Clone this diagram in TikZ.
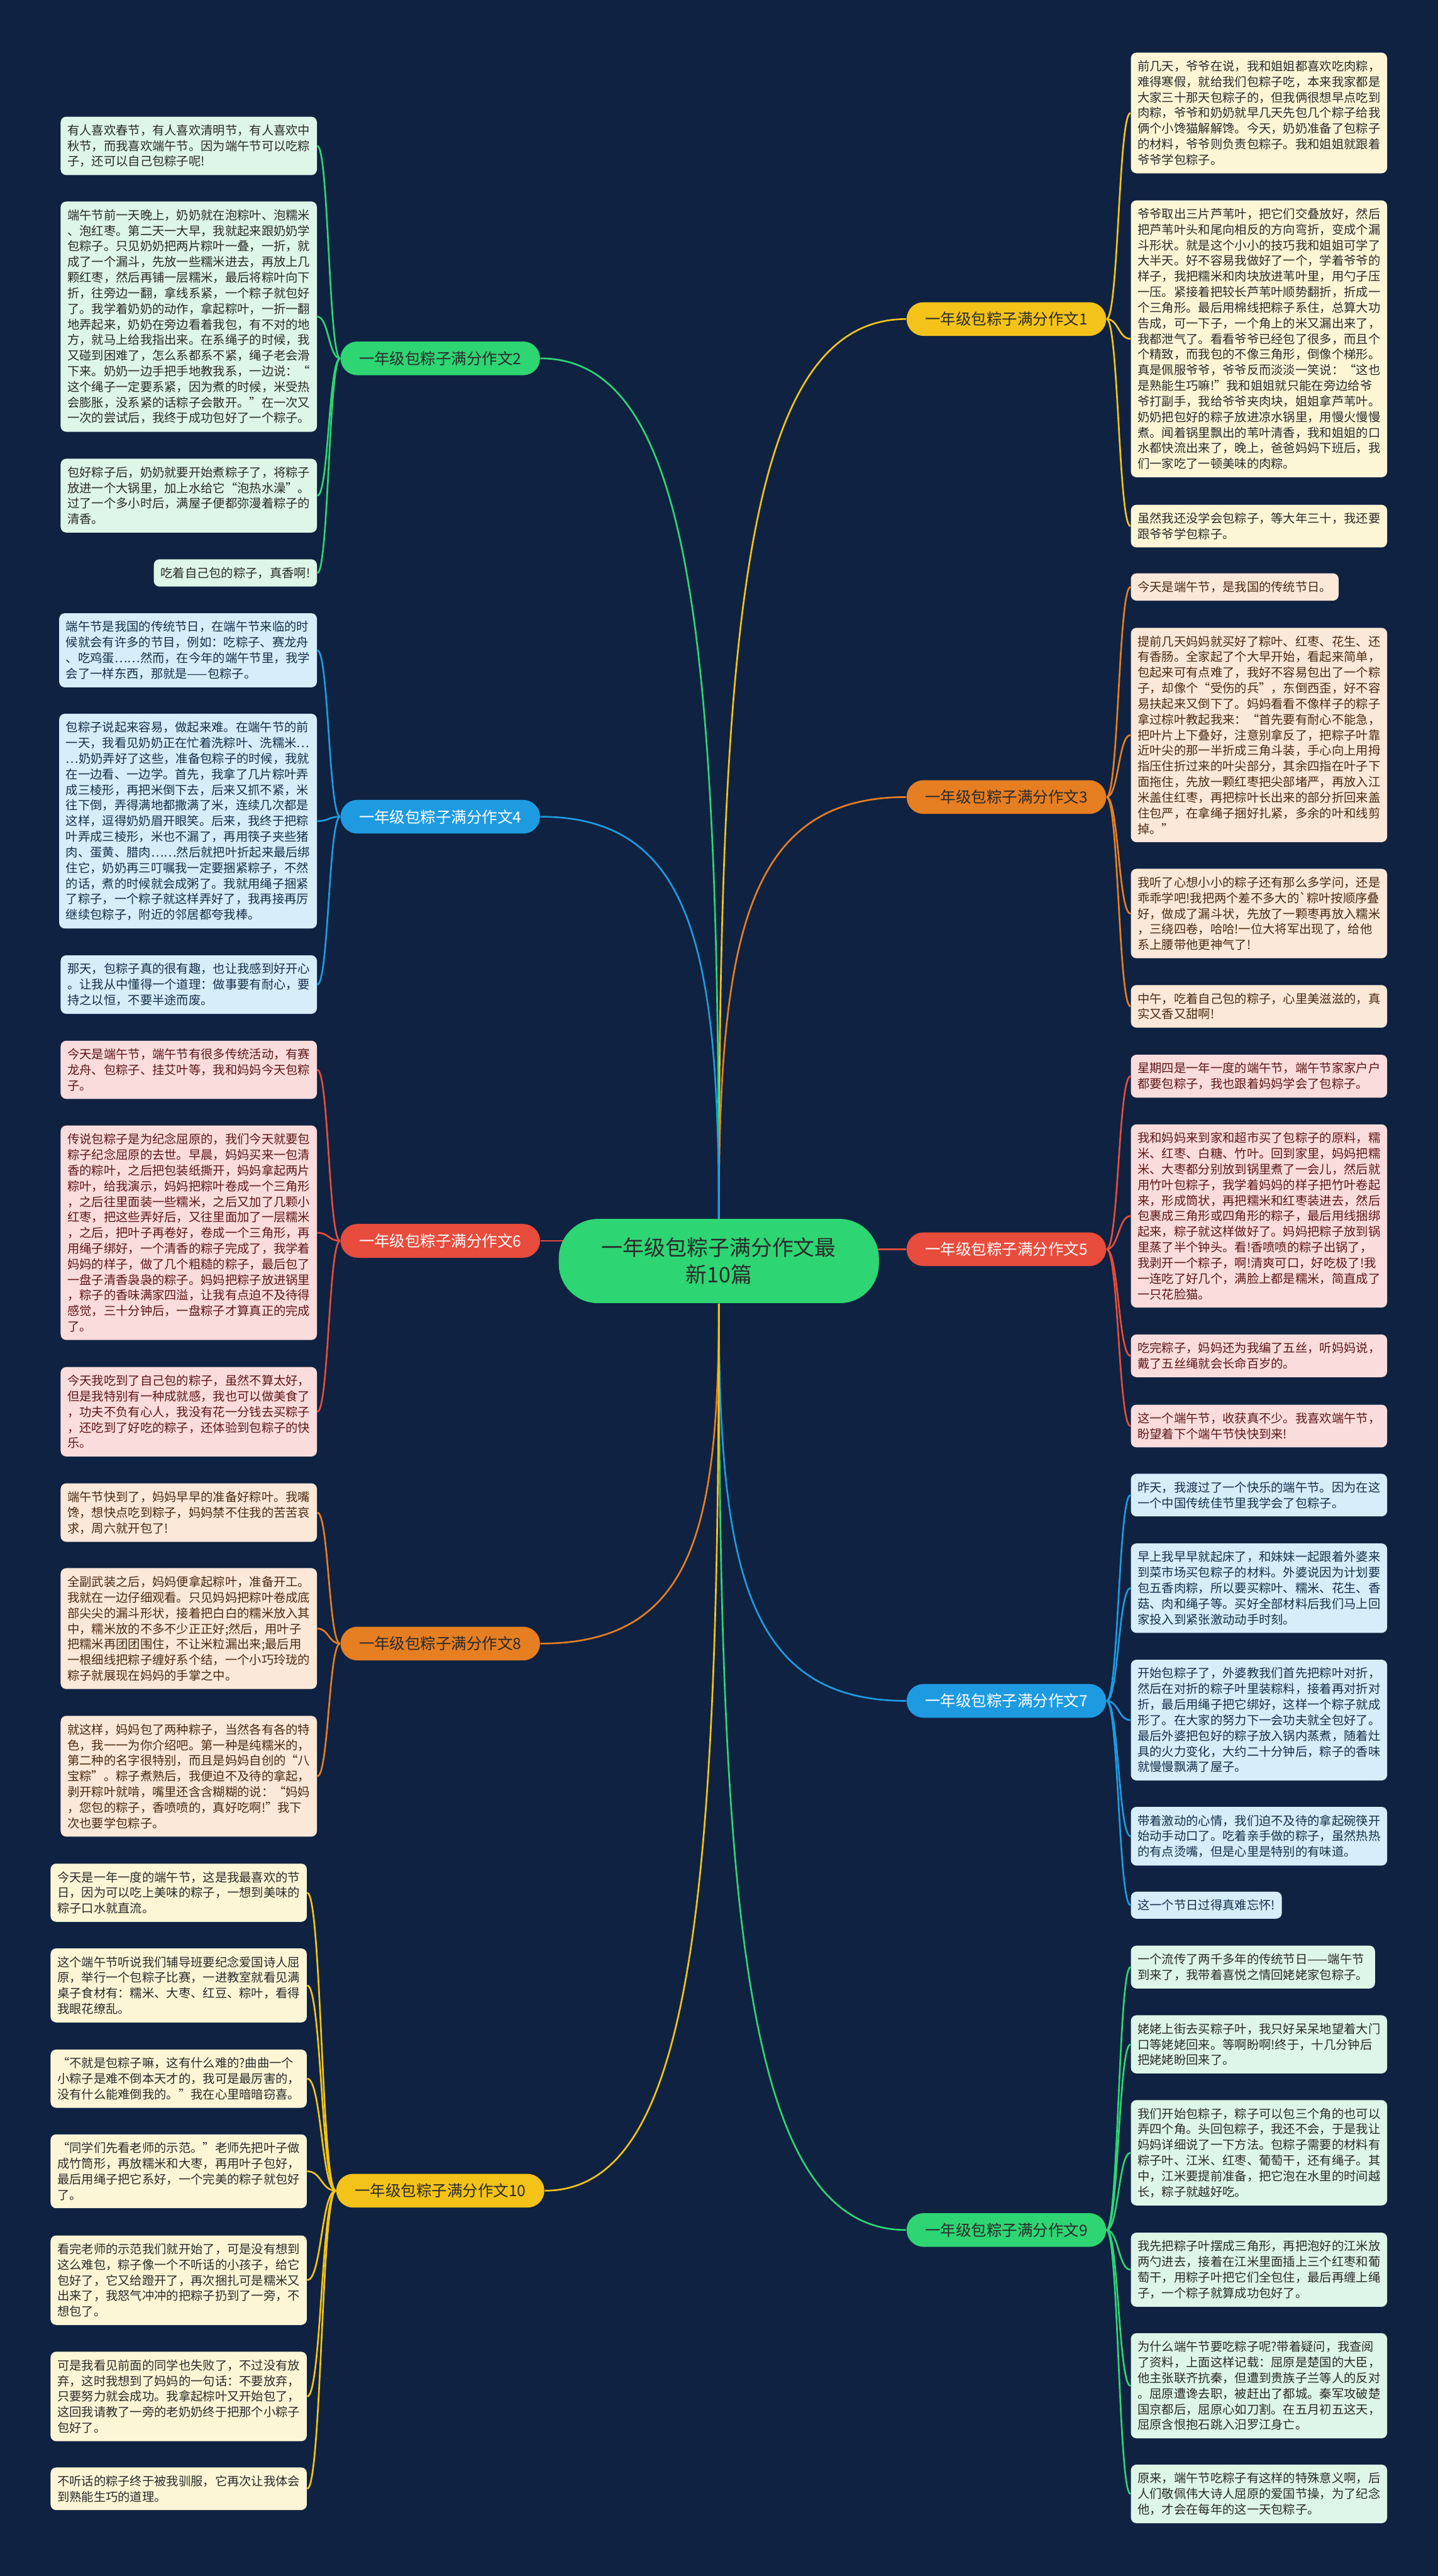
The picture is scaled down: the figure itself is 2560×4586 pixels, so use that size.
\documentclass[tikz,border=0pt]{standalone}
\usepackage{fontspec}
\newfontfamily\cjkfont{Noto Sans CJK SC}
\usetikzlibrary{calc,backgrounds}
\definecolor{MapNavy}{HTML}{0F2241}
\definecolor{MapYellow}{HTML}{F4C319}
\definecolor{MapGreen}{HTML}{2ED573}
\definecolor{MapOrange}{HTML}{E67E22}
\definecolor{MapBlue}{HTML}{1E9BE0}
\definecolor{MapRed}{HTML}{E74C3C}
\definecolor{MapLightYellow}{HTML}{FDF6D6}
\definecolor{MapLightGreen}{HTML}{DDF6E7}
\definecolor{MapLightOrange}{HTML}{FCE8D8}
\definecolor{MapLightBlue}{HTML}{D6EDFA}
\definecolor{MapLightRed}{HTML}{FADCDC}
\definecolor{MapDark}{HTML}{2A2A2A}
\definecolor{MapRedText}{HTML}{5E1717}
\definecolor{MapBrownText}{HTML}{4A2A12}
\definecolor{MapBlueText}{HTML}{14304A}
\newcommand{\leaffont}{\cjkfont\fontsize{6.15pt}{7.91pt}\selectfont}
\newcommand{\branchfont}{\cjkfont\fontsize{7.8pt}{9pt}\selectfont}
\newcommand{\hubfont}{\cjkfont\fontsize{10.8pt}{13.6pt}\selectfont}
\tikzset{
  leafbox/.style={rounded corners=1mm, align=left, inner xsep=1.2mm, inner ysep=1.4mm, font=\leaffont},
  yleaf/.style={leafbox, fill=MapLightYellow, text=MapDark},
  gleaf/.style={leafbox, fill=MapLightGreen, text=MapDark},
  oleaf/.style={leafbox, fill=MapLightOrange, text=MapBrownText},
  bleaf/.style={leafbox, fill=MapLightBlue, text=MapBlueText},
  rleaf/.style={leafbox, fill=MapLightRed, text=MapRedText},
  branchbox/.style={rounded corners=3mm, minimum height=6mm, inner xsep=3.3mm, inner ysep=0pt, font=\branchfont},
  hubbox/.style={rounded corners=7mm, minimum height=15mm, minimum width=57mm, align=center, font=\hubfont, fill=MapGreen, text=MapDark},
  hubpath/.style={to path={.. controls ($(\tikztostart)!0.67!(\tikztostart |- \tikztotarget)$) and ($(\tikztotarget)!0.85!(\tikztotarget -| \tikztostart)$) .. (\tikztotarget)}},
  leafpath/.style={to path={.. controls ($(\tikztostart)!0.5!(\tikztostart -| \tikztotarget)$) and ($(\tikztotarget)!0.5!(\tikztotarget -| \tikztostart)$) .. (\tikztotarget)}},
  yline/.style={line width=0.3mm, draw=MapYellow},
  gline/.style={line width=0.3mm, draw=MapGreen},
  oline/.style={line width=0.3mm, draw=MapOrange},
  bline/.style={line width=0.3mm, draw=MapBlue},
  rline/.style={line width=0.3mm, draw=MapRed}
}
\begin{document}
\begin{tikzpicture}[x=0.1mm, y=-0.1mm]
\useasboundingbox (0,0) rectangle (2560,4586);
% centre and branches
\node[hubbox] (hub) at (1280,2245) {一年级包粽子满分作文最\\新10篇};
\node[branchbox, fill=MapYellow, text=MapDark] (b1) at (1792,568) {一年级包粽子满分作文1};
\node[branchbox, fill=MapGreen, text=MapDark] (b2) at (784,638) {一年级包粽子满分作文2};
\node[branchbox, fill=MapOrange, text=MapDark] (b3) at (1792,1419) {一年级包粽子满分作文3};
\node[branchbox, fill=MapBlue, text=white] (b4) at (784,1454) {一年级包粽子满分作文4};
\node[branchbox, fill=MapRed, text=white] (b5) at (1792,2224) {一年级包粽子满分作文5};
\node[branchbox, fill=MapRed, text=white] (b6) at (784,2209) {一年级包粽子满分作文6};
\node[branchbox, fill=MapBlue, text=white] (b7) at (1792,3028) {一年级包粽子满分作文7};
\node[branchbox, fill=MapOrange, text=MapDark] (b8) at (784,2926) {一年级包粽子满分作文8};
\node[branchbox, fill=MapGreen, text=MapDark] (b9) at (1792,3970) {一年级包粽子满分作文9};
\node[branchbox, fill=MapYellow, text=MapDark] (b10) at (784,3900) {一年级包粽子满分作文10};

% essay 1
\node[yleaf, anchor=north west] (l1a) at (2013,93) {前几天，爷爷在说，我和姐姐都喜欢吃肉粽，\\难得寒假，就给我们包粽子吃，本来我家都是\\大家三十那天包粽子的，但我俩很想早点吃到\\肉粽，爷爷和奶奶就早几天先包几个粽子给我\\俩个小馋猫解解馋。今天，奶奶准备了包粽子\\的材料，爷爷则负责包粽子。我和姐姐就跟着\\爷爷学包粽子。};
\node[yleaf, anchor=north west] (l1b) at (2013,356) {爷爷取出三片芦苇叶，把它们交叠放好，然后\\把芦苇叶头和尾向相反的方向弯折，变成个漏\\斗形状。就是这个小小的技巧我和姐姐可学了\\大半天。好不容易我做好了一个，学着爷爷的\\样子，我把糯米和肉块放进苇叶里，用勺子压\\一压。紧接着把较长芦苇叶顺势翻折，折成一\\个三角形。最后用棉线把粽子系住，总算大功\\告成，可一下子，一个角上的米又漏出来了，\\我都泄气了。看看爷爷已经包了很多，而且个\\个精致，而我包的不像三角形，倒像个梯形。\\真是佩服爷爷，爷爷反而淡淡一笑说：“这也\\是熟能生巧嘛!”我和姐姐就只能在旁边给爷\\爷打副手，我给爷爷夹肉块，姐姐拿芦苇叶。\\奶奶把包好的粽子放进凉水锅里，用慢火慢慢\\煮。闻着锅里飘出的苇叶清香，我和姐姐的口\\水都快流出来了，晚上，爸爸妈妈下班后，我\\们一家吃了一顿美味的肉粽。};
\node[yleaf, anchor=north west] (l1c) at (2013,898) {虽然我还没学会包粽子，等大年三十，我还要\\跟爷爷学包粽子。};

% essay 2
\node[gleaf, anchor=north east] (l2a) at (565,207) {有人喜欢春节，有人喜欢清明节，有人喜欢中\\秋节，而我喜欢端午节。因为端午节可以吃粽\\子，还可以自己包粽子呢!};
\node[gleaf, anchor=north east] (l2b) at (565,358) {端午节前一天晚上，奶奶就在泡粽叶、泡糯米\\、泡红枣。第二天一大早，我就起来跟奶奶学\\包粽子。只见奶奶把两片粽叶一叠，一折，就\\成了一个漏斗，先放一些糯米进去，再放上几\\颗红枣，然后再铺一层糯米，最后将粽叶向下\\折，往旁边一翻，拿线系紧，一个粽子就包好\\了。我学着奶奶的动作，拿起粽叶，一折一翻\\地弄起来，奶奶在旁边看着我包，有不对的地\\方，就马上给我指出来。在系绳子的时候，我\\又碰到困难了，怎么系都系不紧，绳子老会滑\\下来。奶奶一边手把手地教我系，一边说：“\\这个绳子一定要系紧，因为煮的时候，米受热\\会膨胀，没系紧的话粽子会散开。”在一次又\\一次的尝试后，我终于成功包好了一个粽子。};
\node[gleaf, anchor=north east] (l2c) at (565,816) {包好粽子后，奶奶就要开始煮粽子了，将粽子\\放进一个大锅里，加上水给它“泡热水澡”。\\过了一个多小时后，满屋子便都弥漫着粽子的\\清香。};
\node[gleaf, anchor=north east] (l2d) at (565,995) {吃着自己包的粽子，真香啊!};

% essay 3
\node[oleaf, anchor=north west] (l3a) at (2013,1020) {今天是端午节，是我国的传统节日。};
\node[oleaf, anchor=north west] (l3b) at (2013,1117) {提前几天妈妈就买好了粽叶、红枣、花生、还\\有香肠。全家起了个大早开始，看起来简单，\\包起来可有点难了，我好不容易包出了一个粽\\子，却像个“受伤的兵”，东倒西歪，好不容\\易扶起来又倒下了。妈妈看看不像样子的粽子\\拿过棕叶教起我来：“首先要有耐心不能急，\\把叶片上下叠好，注意别拿反了，把粽子叶靠\\近叶尖的那一半折成三角斗装，手心向上用拇\\指压住折过来的叶尖部分，其余四指在叶子下\\面拖住，先放一颗红枣把尖部堵严，再放入江\\米盖住红枣，再把棕叶长出来的部分折回来盖\\住包严，在拿绳子捆好扎紧，多余的叶和线剪\\掉。”};
\node[oleaf, anchor=north west] (l3c) at (2013,1546) {我听了心想小小的粽子还有那么多学问，还是\\乖乖学吧!我把两个差不多大的`粽叶按顺序叠\\好，做成了漏斗状，先放了一颗枣再放入糯米\\，三绕四卷，哈哈!一位大将军出现了，给他\\系上腰带他更神气了!};
\node[oleaf, anchor=north west] (l3d) at (2013,1753) {中午，吃着自己包的粽子，心里美滋滋的，真\\实又香又甜啊!};

% essay 4
\node[bleaf, anchor=north east] (l4a) at (565,1091) {端午节是我国的传统节日，在端午节来临的时\\候就会有许多的节目，例如：吃粽子、赛龙舟\\、吃鸡蛋……然而，在今年的端午节里，我学\\会了一样东西，那就是——包粽子。};
\node[bleaf, anchor=north east] (l4b) at (565,1270) {包粽子说起来容易，做起来难。在端午节的前\\一天，我看见奶奶正在忙着洗粽叶、洗糯米…\\…奶奶弄好了这些，准备包粽子的时候，我就\\在一边看、一边学。首先，我拿了几片粽叶弄\\成三棱形，再把米倒下去，后来又抓不紧，米\\往下倒，弄得满地都撒满了米，连续几次都是\\这样，逗得奶奶眉开眼笑。后来，我终于把粽\\叶弄成三棱形，米也不漏了，再用筷子夹些猪\\肉、蛋黄、腊肉……然后就把叶折起来最后绑\\住它，奶奶再三叮嘱我一定要捆紧粽子，不然\\的话，煮的时候就会成粥了。我就用绳子捆紧\\了粽子，一个粽子就这样弄好了，我再接再厉\\继续包粽子，附近的邻居都夸我棒。};
\node[bleaf, anchor=north east] (l4c) at (565,1700) {那天，包粽子真的很有趣，也让我感到好开心\\。让我从中懂得一个道理：做事要有耐心，要\\持之以恒，不要半途而废。};

% essay 5
\node[rleaf, anchor=north west] (l5a) at (2013,1877) {星期四是一年一度的端午节，端午节家家户户\\都要包粽子，我也跟着妈妈学会了包粽子。};
\node[rleaf, anchor=north west] (l5b) at (2013,2001) {我和妈妈来到家和超市买了包粽子的原料，糯\\米、红枣、白糖、竹叶。回到家里，妈妈把糯\\米、大枣都分别放到锅里煮了一会儿，然后就\\用竹叶包粽子，我学着妈妈的样子把竹叶卷起\\来，形成筒状，再把糯米和红枣装进去，然后\\包裹成三角形或四角形的粽子，最后用线捆绑\\起来，粽子就这样做好了。妈妈把粽子放到锅\\里蒸了半个钟头。看!香喷喷的粽子出锅了，\\我剥开一个粽子，啊!清爽可口，好吃极了!我\\一连吃了好几个，满脸上都是糯米，简直成了\\一只花脸猫。};
\node[rleaf, anchor=north west] (l5c) at (2013,2375) {吃完粽子，妈妈还为我编了五丝，听妈妈说，\\戴了五丝绳就会长命百岁的。};
\node[rleaf, anchor=north west] (l5d) at (2013,2500) {这一个端午节，收获真不少。我喜欢端午节，\\盼望着下个端午节快快到来!};

% essay 6
\node[rleaf, anchor=north east] (l6a) at (565,1852) {今天是端午节，端午节有很多传统活动，有赛\\龙舟、包粽子、挂艾叶等，我和妈妈今天包粽\\子。};
\node[rleaf, anchor=north east] (l6b) at (565,2003) {传说包粽子是为纪念屈原的，我们今天就要包\\粽子纪念屈原的去世。早晨，妈妈买来一包清\\香的粽叶，之后把包装纸撕开，妈妈拿起两片\\粽叶，给我演示，妈妈把粽叶卷成一个三角形\\，之后往里面装一些糯米，之后又加了几颗小\\红枣，把这些弄好后，又往里面加了一层糯米\\，之后，把叶子再卷好，卷成一个三角形，再\\用绳子绑好，一个清香的粽子完成了，我学着\\妈妈的样子，做了几个粗糙的粽子，最后包了\\一盘子清香袅袅的粽子。妈妈把粽子放进锅里\\，粽子的香味满家四溢，让我有点迫不及待得\\感觉，三十分钟后，一盘粽子才算真正的完成\\了。};
\node[rleaf, anchor=north east] (l6c) at (565,2433) {今天我吃到了自己包的粽子，虽然不算太好，\\但是我特别有一种成就感，我也可以做美食了\\，功夫不负有心人，我没有花一分钱去买粽子\\，还吃到了好吃的粽子，还体验到包粽子的快\\乐。};

% essay 7
\node[bleaf, anchor=north west] (l7a) at (2013,2623) {昨天，我渡过了一个快乐的端午节。因为在这\\一个中国传统佳节里我学会了包粽子。};
\node[bleaf, anchor=north west] (l7b) at (2013,2747) {早上我早早就起床了，和妹妹一起跟着外婆来\\到菜市场买包粽子的材料。外婆说因为计划要\\包五香肉粽，所以要买粽叶、糯米、花生、香\\菇、肉和绳子等。买好全部材料后我们马上回\\家投入到紧张激动动手时刻。};
\node[bleaf, anchor=north west] (l7c) at (2013,2954) {开始包粽子了，外婆教我们首先把粽叶对折，\\然后在对折的粽子叶里装粽料，接着再对折对\\折，最后用绳子把它绑好，这样一个粽子就成\\形了。在大家的努力下一会功夫就全包好了。\\最后外婆把包好的粽子放入锅内蒸煮，随着灶\\具的火力变化，大约二十分钟后，粽子的香味\\就慢慢飘满了屋子。};
\node[bleaf, anchor=north west] (l7d) at (2013,3216) {带着激动的心情，我们迫不及待的拿起碗筷开\\始动手动口了。吃着亲手做的粽子，虽然热热\\的有点烫嘴，但是心里是特别的有味道。};
\node[bleaf, anchor=north west] (l7e) at (2013,3367) {这一个节日过得真难忘怀!};

% essay 8
\node[oleaf, anchor=north east] (l8a) at (565,2640) {端午节快到了，妈妈早早的准备好粽叶。我嘴\\馋，想快点吃到粽子，妈妈禁不住我的苦苦哀\\求，周六就开包了!};
\node[oleaf, anchor=north east] (l8b) at (565,2791) {全副武装之后，妈妈便拿起粽叶，准备开工。\\我就在一边仔细观看。只见妈妈把粽叶卷成底\\部尖尖的漏斗形状，接着把白白的糯米放入其\\中，糯米放的不多不少正正好;然后，用叶子\\把糯米再团团围住，不让米粒漏出来;最后用\\一根细线把粽子缠好系个结，一个小巧玲珑的\\粽子就展现在妈妈的手掌之中。};
\node[oleaf, anchor=north east] (l8c) at (565,3054) {就这样，妈妈包了两种粽子，当然各有各的特\\色，我一一为你介绍吧。第一种是纯糯米的，\\第二种的名字很特别，而且是妈妈自创的“八\\宝粽”。粽子煮熟后，我便迫不及待的拿起，\\剥开粽叶就啃，嘴里还含含糊糊的说：“妈妈\\，您包的粽子，香喷喷的，真好吃啊!”我下\\次也要学包粽子。};

% essay 9
\node[gleaf, anchor=north west] (l9a) at (2013,3463) {一个流传了两千多年的传统节日——端午节\\到来了，我带着喜悦之情回姥姥家包粽子。};
\node[gleaf, anchor=north west] (l9b) at (2013,3587) {姥姥上街去买粽子叶，我只好呆呆地望着大门\\口等姥姥回来。等啊盼啊!终于，十几分钟后\\把姥姥盼回来了。};
\node[gleaf, anchor=north west] (l9c) at (2013,3738) {我们开始包粽子，粽子可以包三个角的也可以\\弄四个角。头回包粽子，我还不会，于是我让\\妈妈详细说了一下方法。包粽子需要的材料有\\粽子叶、江米、红枣、葡萄干，还有绳子。其\\中，江米要提前准备，把它泡在水里的时间越\\长，粽子就越好吃。};
\node[gleaf, anchor=north west] (l9d) at (2013,3974) {我先把粽子叶摆成三角形，再把泡好的江米放\\两勺进去，接着在江米里面插上三个红枣和葡\\萄干，用粽子叶把它们全包住，最后再缠上绳\\子，一个粽子就算成功包好了。};
\node[gleaf, anchor=north west] (l9e) at (2013,4153) {为什么端午节要吃粽子呢?带着疑问，我查阅\\了资料，上面这样记载：屈原是楚国的大臣，\\他主张联齐抗秦，但遭到贵族子兰等人的反对\\。屈原遭谗去职，被赶出了都城。秦军攻破楚\\国京都后，屈原心如刀割。在五月初五这天，\\屈原含恨抱石跳入汨罗江身亡。};
\node[gleaf, anchor=north west] (l9f) at (2013,4387) {原来，端午节吃粽子有这样的特殊意义啊，后\\人们敬佩伟大诗人屈原的爱国节操，为了纪念\\他，才会在每年的这一天包粽子。};

% essay 10
\node[yleaf, anchor=north east] (l10a) at (547,3317) {今天是一年一度的端午节，这是我最喜欢的节\\日，因为可以吃上美味的粽子，一想到美味的\\粽子口水就直流。};
\node[yleaf, anchor=north east] (l10b) at (547,3468) {这个端午节听说我们辅导班要纪念爱国诗人屈\\原，举行一个包粽子比赛，一进教室就看见满\\桌子食材有：糯米、大枣、红豆、粽叶，看得\\我眼花缭乱。};
\node[yleaf, anchor=north east] (l10c) at (547,3648) {“不就是包粽子嘛，这有什么难的?曲曲一个\\小粽子是难不倒本天才的，我可是最厉害的，\\没有什么能难倒我的。”我在心里暗暗窃喜。};
\node[yleaf, anchor=north east] (l10d) at (547,3799) {“同学们先看老师的示范。”老师先把叶子做\\成竹筒形，再放糯米和大枣，再用叶子包好，\\最后用绳子把它系好，一个完美的粽子就包好\\了。};
\node[yleaf, anchor=north east] (l10e) at (547,3979) {看完老师的示范我们就开始了，可是没有想到\\这么难包，粽子像一个不听话的小孩子，给它\\包好了，它又给蹬开了，再次捆扎可是糯米又\\出来了，我怒气冲冲的把粽子扔到了一旁，不\\想包了。};
\node[yleaf, anchor=north east] (l10f) at (547,4186) {可是我看见前面的同学也失败了，不过没有放\\弃，这时我想到了妈妈的一句话：不要放弃，\\只要努力就会成功。我拿起棕叶又开始包了，\\这回我请教了一旁的老奶奶终于把那个小粽子\\包好了。};
\node[yleaf, anchor=north east] (l10g) at (547,4392) {不听话的粽子终于被我驯服，它再次让我体会\\到熟能生巧的道理。};

\begin{pgfonlayer}{background}
\fill[MapNavy] (0,0) rectangle (2560,4586);
% centre to branches
\draw[yline] (hub.north) to[hubpath] (b1.west);
\draw[gline] (hub.north) to[hubpath] (b2.east);
\draw[oline] (hub.north) to[hubpath] (b3.west);
\draw[bline] (hub.north) to[hubpath] (b4.east);
\draw[rline] (b5.west) -- (b5.west -| hub.center);
\draw[rline] (b6.east) -- (b6.east -| hub.center);
\draw[bline] (hub.south) to[hubpath] (b7.west);
\draw[oline] (hub.south) to[hubpath] (b8.east);
\draw[gline] (hub.south) to[hubpath] (b9.west);
\draw[yline] (hub.south) to[hubpath] (b10.east);
% branches to leaves
\draw[yline] (b1.east) to[leafpath] (l1a.west);
\draw[yline] (b1.east) to[leafpath] (l1b.west);
\draw[yline] (b1.east) to[leafpath] (l1c.west);
\draw[gline] (b2.west) to[leafpath] (l2a.east);
\draw[gline] (b2.west) to[leafpath] (l2b.east);
\draw[gline] (b2.west) to[leafpath] (l2c.east);
\draw[gline] (b2.west) to[leafpath] (l2d.east);
\draw[oline] (b3.east) to[leafpath] (l3a.west);
\draw[oline] (b3.east) to[leafpath] (l3b.west);
\draw[oline] (b3.east) to[leafpath] (l3c.west);
\draw[oline] (b3.east) to[leafpath] (l3d.west);
\draw[bline] (b4.west) to[leafpath] (l4a.east);
\draw[bline] (b4.west) to[leafpath] (l4b.east);
\draw[bline] (b4.west) to[leafpath] (l4c.east);
\draw[rline] (b5.east) to[leafpath] (l5a.west);
\draw[rline] (b5.east) to[leafpath] (l5b.west);
\draw[rline] (b5.east) to[leafpath] (l5c.west);
\draw[rline] (b5.east) to[leafpath] (l5d.west);
\draw[rline] (b6.west) to[leafpath] (l6a.east);
\draw[rline] (b6.west) to[leafpath] (l6b.east);
\draw[rline] (b6.west) to[leafpath] (l6c.east);
\draw[bline] (b7.east) to[leafpath] (l7a.west);
\draw[bline] (b7.east) to[leafpath] (l7b.west);
\draw[bline] (b7.east) to[leafpath] (l7c.west);
\draw[bline] (b7.east) to[leafpath] (l7d.west);
\draw[bline] (b7.east) to[leafpath] (l7e.west);
\draw[oline] (b8.west) to[leafpath] (l8a.east);
\draw[oline] (b8.west) to[leafpath] (l8b.east);
\draw[oline] (b8.west) to[leafpath] (l8c.east);
\draw[gline] (b9.east) to[leafpath] (l9a.west);
\draw[gline] (b9.east) to[leafpath] (l9b.west);
\draw[gline] (b9.east) to[leafpath] (l9c.west);
\draw[gline] (b9.east) to[leafpath] (l9d.west);
\draw[gline] (b9.east) to[leafpath] (l9e.west);
\draw[gline] (b9.east) to[leafpath] (l9f.west);
\draw[yline] (b10.west) to[leafpath] (l10a.east);
\draw[yline] (b10.west) to[leafpath] (l10b.east);
\draw[yline] (b10.west) to[leafpath] (l10c.east);
\draw[yline] (b10.west) to[leafpath] (l10d.east);
\draw[yline] (b10.west) to[leafpath] (l10e.east);
\draw[yline] (b10.west) to[leafpath] (l10f.east);
\draw[yline] (b10.west) to[leafpath] (l10g.east);
\end{pgfonlayer}
\end{tikzpicture}
\end{document}
